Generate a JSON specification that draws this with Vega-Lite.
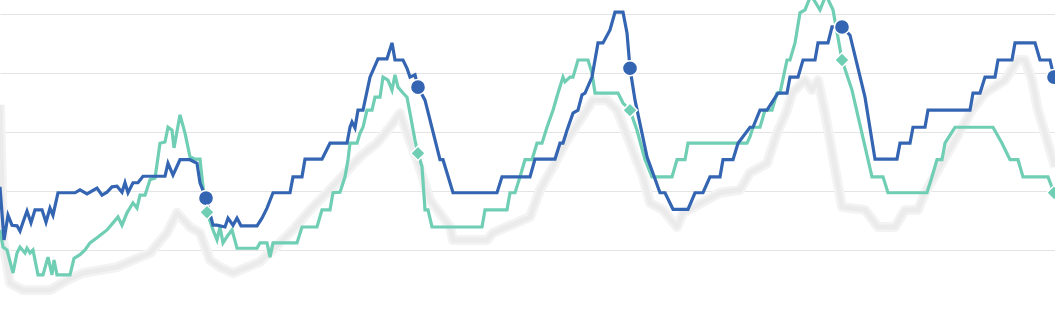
{
  "$schema": "https://vega.github.io/schema/vega-lite/v6.json",
  "width": 1055,
  "height": 309,
  "autosize": {"type": "fit", "contains": "padding"},
  "padding": 0,
  "background": "white",
  "config": {"view": {"stroke": null}},
  "datasets": {
    "series": [
      {"t": 0, "v": 34.6, "s": "shadow"}, {"t": 3, "v": 11.7, "s": "shadow"}, {"t": 10, "v": 4.4, "s": "shadow"}, {"t": 23, "v": 3.2, "s": "shadow"}, {"t": 50, "v": 3.2, "s": "shadow"}, {"t": 67, "v": 4.9, "s": "shadow"}, {"t": 83, "v": 6.1, "s": "shadow"}, {"t": 117, "v": 7.1, "s": "shadow"}, {"t": 133, "v": 8.3, "s": "shadow"}, {"t": 150, "v": 9.5, "s": "shadow"}, {"t": 167, "v": 12.9, "s": "shadow"}, {"t": 177, "v": 16.3, "s": "shadow"}, {"t": 190, "v": 13.9, "s": "shadow"}, {"t": 200, "v": 12.9, "s": "shadow"}, {"t": 210, "v": 8.3, "s": "shadow"}, {"t": 220, "v": 7.1, "s": "shadow"}, {"t": 233, "v": 6.1, "s": "shadow"}, {"t": 260, "v": 8.0, "s": "shadow"}, {"t": 293, "v": 13.4, "s": "shadow"}, {"t": 310, "v": 16.8, "s": "shadow"}, {"t": 327, "v": 19.7, "s": "shadow"}, {"t": 360, "v": 25.8, "s": "shadow"}, {"t": 377, "v": 28.1, "s": "shadow"}, {"t": 393, "v": 31.5, "s": "shadow"}, {"t": 400, "v": 33.2, "s": "shadow"}, {"t": 407, "v": 29.8, "s": "shadow"}, {"t": 417, "v": 25.3, "s": "shadow"}, {"t": 430, "v": 18.5, "s": "shadow"}, {"t": 450, "v": 13.9, "s": "shadow"}, {"t": 453, "v": 11.7, "s": "shadow"}, {"t": 487, "v": 11.7, "s": "shadow"}, {"t": 493, "v": 12.9, "s": "shadow"}, {"t": 530, "v": 15.6, "s": "shadow"}, {"t": 540, "v": 20.2, "s": "shadow"}, {"t": 553, "v": 24.1, "s": "shadow"}, {"t": 567, "v": 28.6, "s": "shadow"}, {"t": 580, "v": 32.0, "s": "shadow"}, {"t": 593, "v": 35.4, "s": "shadow"}, {"t": 607, "v": 35.4, "s": "shadow"}, {"t": 617, "v": 33.7, "s": "shadow"}, {"t": 630, "v": 28.1, "s": "shadow"}, {"t": 643, "v": 22.4, "s": "shadow"}, {"t": 650, "v": 18.0, "s": "shadow"}, {"t": 663, "v": 16.8, "s": "shadow"}, {"t": 677, "v": 13.9, "s": "shadow"}, {"t": 683, "v": 16.3, "s": "shadow"}, {"t": 720, "v": 19.7, "s": "shadow"}, {"t": 740, "v": 20.2, "s": "shadow"}, {"t": 750, "v": 23.1, "s": "shadow"}, {"t": 767, "v": 24.7, "s": "shadow"}, {"t": 777, "v": 29.8, "s": "shadow"}, {"t": 787, "v": 33.7, "s": "shadow"}, {"t": 792, "v": 36.6, "s": "shadow"}, {"t": 805, "v": 38.8, "s": "shadow"}, {"t": 812, "v": 37.1, "s": "shadow"}, {"t": 818, "v": 38.8, "s": "shadow"}, {"t": 825, "v": 33.2, "s": "shadow"}, {"t": 842, "v": 17.3, "s": "shadow"}, {"t": 865, "v": 16.8, "s": "shadow"}, {"t": 878, "v": 13.9, "s": "shadow"}, {"t": 895, "v": 13.9, "s": "shadow"}, {"t": 905, "v": 16.8, "s": "shadow"}, {"t": 918, "v": 16.8, "s": "shadow"}, {"t": 925, "v": 19.7, "s": "shadow"}, {"t": 972, "v": 33.7, "s": "shadow"}, {"t": 985, "v": 36.6, "s": "shadow"}, {"t": 1005, "v": 38.8, "s": "shadow"}, {"t": 1018, "v": 42.2, "s": "shadow"}, {"t": 1025, "v": 42.2, "s": "shadow"}, {"t": 1032, "v": 38.8, "s": "shadow"}, {"t": 1038, "v": 33.7, "s": "shadow"}, {"t": 1048, "v": 28.1, "s": "shadow"}, {"t": 1055, "v": 24.1, "s": "shadow"},

      {"t": 0, "v": 13.4, "s": "teal"}, {"t": 3, "v": 10.5, "s": "teal"}, {"t": 7, "v": 10.0, "s": "teal"}, {"t": 13, "v": 6.1, "s": "teal"}, {"t": 17, "v": 9.5, "s": "teal"}, {"t": 20, "v": 10.5, "s": "teal"}, {"t": 25, "v": 9.5, "s": "teal"}, {"t": 27, "v": 10.3, "s": "teal"}, {"t": 30, "v": 9.5, "s": "teal"}, {"t": 33, "v": 10.0, "s": "teal"}, {"t": 38, "v": 5.8, "s": "teal"}, {"t": 43, "v": 5.8, "s": "teal"}, {"t": 48, "v": 8.8, "s": "teal"}, {"t": 52, "v": 5.8, "s": "teal"}, {"t": 54, "v": 8.3, "s": "teal"}, {"t": 57, "v": 5.8, "s": "teal"}, {"t": 70, "v": 5.8, "s": "teal"}, {"t": 74, "v": 8.6, "s": "teal"}, {"t": 80, "v": 9.2, "s": "teal"}, {"t": 85, "v": 10.0, "s": "teal"}, {"t": 90, "v": 11.2, "s": "teal"}, {"t": 98, "v": 12.2, "s": "teal"}, {"t": 107, "v": 13.4, "s": "teal"}, {"t": 113, "v": 14.6, "s": "teal"}, {"t": 118, "v": 15.6, "s": "teal"}, {"t": 122, "v": 14.2, "s": "teal"}, {"t": 127, "v": 16.3, "s": "teal"}, {"t": 133, "v": 18.0, "s": "teal"}, {"t": 137, "v": 17.1, "s": "teal"}, {"t": 140, "v": 19.3, "s": "teal"}, {"t": 145, "v": 19.3, "s": "teal"}, {"t": 150, "v": 21.9, "s": "teal"}, {"t": 155, "v": 22.2, "s": "teal"}, {"t": 160, "v": 28.1, "s": "teal"}, {"t": 165, "v": 28.3, "s": "teal"}, {"t": 168, "v": 30.8, "s": "teal"}, {"t": 172, "v": 30.3, "s": "teal"}, {"t": 174, "v": 27.3, "s": "teal"}, {"t": 180, "v": 32.9, "s": "teal"}, {"t": 185, "v": 29.8, "s": "teal"}, {"t": 190, "v": 25.8, "s": "teal"}, {"t": 195, "v": 25.4, "s": "teal"}, {"t": 200, "v": 25.4, "s": "teal"}, {"t": 203, "v": 20.7, "s": "teal"}, {"t": 207, "v": 16.4, "s": "teal"}, {"t": 213, "v": 13.4, "s": "teal"}, {"t": 217, "v": 11.7, "s": "teal"}, {"t": 220, "v": 13.9, "s": "teal"}, {"t": 223, "v": 11.2, "s": "teal"}, {"t": 228, "v": 12.5, "s": "teal"}, {"t": 232, "v": 13.4, "s": "teal"}, {"t": 237, "v": 10.3, "s": "teal"}, {"t": 257, "v": 10.3, "s": "teal"}, {"t": 260, "v": 11.2, "s": "teal"}, {"t": 267, "v": 11.2, "s": "teal"}, {"t": 270, "v": 8.8, "s": "teal"}, {"t": 273, "v": 11.2, "s": "teal"}, {"t": 297, "v": 11.2, "s": "teal"}, {"t": 302, "v": 13.9, "s": "teal"}, {"t": 317, "v": 13.9, "s": "teal"}, {"t": 322, "v": 16.8, "s": "teal"}, {"t": 330, "v": 16.8, "s": "teal"}, {"t": 333, "v": 19.7, "s": "teal"}, {"t": 340, "v": 19.8, "s": "teal"}, {"t": 345, "v": 22.4, "s": "teal"}, {"t": 348, "v": 25.3, "s": "teal"}, {"t": 350, "v": 28.1, "s": "teal"}, {"t": 357, "v": 28.1, "s": "teal"}, {"t": 360, "v": 29.8, "s": "teal"}, {"t": 363, "v": 30.8, "s": "teal"}, {"t": 367, "v": 33.7, "s": "teal"}, {"t": 372, "v": 33.7, "s": "teal"}, {"t": 375, "v": 35.9, "s": "teal"}, {"t": 380, "v": 35.9, "s": "teal"}, {"t": 383, "v": 39.3, "s": "teal"}, {"t": 388, "v": 38.8, "s": "teal"}, {"t": 392, "v": 37.1, "s": "teal"}, {"t": 395, "v": 39.7, "s": "teal"}, {"t": 398, "v": 37.6, "s": "teal"}, {"t": 403, "v": 36.6, "s": "teal"}, {"t": 407, "v": 35.9, "s": "teal"}, {"t": 410, "v": 33.2, "s": "teal"}, {"t": 415, "v": 28.6, "s": "teal"}, {"t": 418, "v": 26.4, "s": "teal"}, {"t": 422, "v": 24.1, "s": "teal"}, {"t": 425, "v": 16.8, "s": "teal"}, {"t": 428, "v": 16.8, "s": "teal"}, {"t": 432, "v": 13.9, "s": "teal"}, {"t": 482, "v": 13.9, "s": "teal"}, {"t": 485, "v": 16.8, "s": "teal"}, {"t": 507, "v": 16.8, "s": "teal"}, {"t": 510, "v": 19.7, "s": "teal"}, {"t": 515, "v": 19.7, "s": "teal"}, {"t": 520, "v": 22.4, "s": "teal"}, {"t": 525, "v": 25.3, "s": "teal"}, {"t": 532, "v": 25.3, "s": "teal"}, {"t": 537, "v": 28.1, "s": "teal"}, {"t": 542, "v": 28.1, "s": "teal"}, {"t": 547, "v": 30.8, "s": "teal"}, {"t": 553, "v": 33.7, "s": "teal"}, {"t": 558, "v": 36.6, "s": "teal"}, {"t": 563, "v": 39.3, "s": "teal"}, {"t": 565, "v": 38.5, "s": "teal"}, {"t": 570, "v": 39.3, "s": "teal"}, {"t": 573, "v": 39.3, "s": "teal"}, {"t": 578, "v": 42.2, "s": "teal"}, {"t": 588, "v": 42.2, "s": "teal"}, {"t": 592, "v": 40.0, "s": "teal"}, {"t": 595, "v": 36.6, "s": "teal"}, {"t": 618, "v": 36.6, "s": "teal"}, {"t": 623, "v": 34.9, "s": "teal"}, {"t": 630, "v": 33.7, "s": "teal"}, {"t": 637, "v": 30.3, "s": "teal"}, {"t": 645, "v": 25.3, "s": "teal"}, {"t": 652, "v": 22.4, "s": "teal"}, {"t": 672, "v": 22.4, "s": "teal"}, {"t": 677, "v": 25.3, "s": "teal"}, {"t": 685, "v": 25.3, "s": "teal"}, {"t": 688, "v": 28.1, "s": "teal"}, {"t": 747, "v": 28.1, "s": "teal"}, {"t": 750, "v": 29.2, "s": "teal"}, {"t": 753, "v": 30.8, "s": "teal"}, {"t": 760, "v": 30.8, "s": "teal"}, {"t": 765, "v": 33.7, "s": "teal"}, {"t": 772, "v": 33.7, "s": "teal"}, {"t": 777, "v": 36.6, "s": "teal"}, {"t": 780, "v": 36.6, "s": "teal"}, {"t": 787, "v": 42.2, "s": "teal"}, {"t": 790, "v": 42.2, "s": "teal"}, {"t": 795, "v": 45.1, "s": "teal"}, {"t": 800, "v": 50.2, "s": "teal"}, {"t": 805, "v": 50.7, "s": "teal"}, {"t": 811, "v": 53.2, "s": "teal"}, {"t": 820, "v": 50.7, "s": "teal"}, {"t": 826, "v": 53.2, "s": "teal"}, {"t": 833, "v": 50.7, "s": "teal"}, {"t": 842, "v": 42.2, "s": "teal"}, {"t": 852, "v": 37.1, "s": "teal"}, {"t": 872, "v": 22.4, "s": "teal"}, {"t": 883, "v": 22.4, "s": "teal"}, {"t": 888, "v": 19.7, "s": "teal"}, {"t": 927, "v": 19.7, "s": "teal"}, {"t": 932, "v": 22.4, "s": "teal"}, {"t": 937, "v": 25.3, "s": "teal"}, {"t": 942, "v": 25.3, "s": "teal"}, {"t": 945, "v": 28.1, "s": "teal"}, {"t": 955, "v": 30.8, "s": "teal"}, {"t": 993, "v": 30.8, "s": "teal"}, {"t": 1002, "v": 28.1, "s": "teal"}, {"t": 1010, "v": 25.3, "s": "teal"}, {"t": 1018, "v": 25.3, "s": "teal"}, {"t": 1023, "v": 22.4, "s": "teal"}, {"t": 1048, "v": 22.4, "s": "teal"}, {"t": 1054, "v": 19.7, "s": "teal"},

      {"t": 0, "v": 20.7, "s": "blue"}, {"t": 4, "v": 11.7, "s": "blue"}, {"t": 8, "v": 15.9, "s": "blue"}, {"t": 12, "v": 14.2, "s": "blue"}, {"t": 17, "v": 14.1, "s": "blue"}, {"t": 20, "v": 13.2, "s": "blue"}, {"t": 23, "v": 14.7, "s": "blue"}, {"t": 27, "v": 16.6, "s": "blue"}, {"t": 31, "v": 14.6, "s": "blue"}, {"t": 35, "v": 16.8, "s": "blue"}, {"t": 42, "v": 16.8, "s": "blue"}, {"t": 46, "v": 14.7, "s": "blue"}, {"t": 50, "v": 17.1, "s": "blue"}, {"t": 53, "v": 15.9, "s": "blue"}, {"t": 58, "v": 19.7, "s": "blue"}, {"t": 75, "v": 19.7, "s": "blue"}, {"t": 80, "v": 20.2, "s": "blue"}, {"t": 87, "v": 19.5, "s": "blue"}, {"t": 97, "v": 20.5, "s": "blue"}, {"t": 102, "v": 19.3, "s": "blue"}, {"t": 107, "v": 19.8, "s": "blue"}, {"t": 112, "v": 20.7, "s": "blue"}, {"t": 117, "v": 20.8, "s": "blue"}, {"t": 122, "v": 19.8, "s": "blue"}, {"t": 125, "v": 21.4, "s": "blue"}, {"t": 128, "v": 19.7, "s": "blue"}, {"t": 133, "v": 21.4, "s": "blue"}, {"t": 138, "v": 21.4, "s": "blue"}, {"t": 143, "v": 22.5, "s": "blue"}, {"t": 165, "v": 22.5, "s": "blue"}, {"t": 168, "v": 24.7, "s": "blue"}, {"t": 173, "v": 22.7, "s": "blue"}, {"t": 180, "v": 25.3, "s": "blue"}, {"t": 190, "v": 25.3, "s": "blue"}, {"t": 197, "v": 24.7, "s": "blue"}, {"t": 200, "v": 21.4, "s": "blue"}, {"t": 206, "v": 18.8, "s": "blue"}, {"t": 213, "v": 14.2, "s": "blue"}, {"t": 217, "v": 14.2, "s": "blue"}, {"t": 225, "v": 13.9, "s": "blue"}, {"t": 228, "v": 15.4, "s": "blue"}, {"t": 233, "v": 14.2, "s": "blue"}, {"t": 237, "v": 15.4, "s": "blue"}, {"t": 241, "v": 14.1, "s": "blue"}, {"t": 257, "v": 14.1, "s": "blue"}, {"t": 262, "v": 15.4, "s": "blue"}, {"t": 267, "v": 17.1, "s": "blue"}, {"t": 273, "v": 19.7, "s": "blue"}, {"t": 290, "v": 19.7, "s": "blue"}, {"t": 293, "v": 22.4, "s": "blue"}, {"t": 302, "v": 22.4, "s": "blue"}, {"t": 305, "v": 25.4, "s": "blue"}, {"t": 322, "v": 25.4, "s": "blue"}, {"t": 330, "v": 28.1, "s": "blue"}, {"t": 347, "v": 28.1, "s": "blue"}, {"t": 350, "v": 30.8, "s": "blue"}, {"t": 352, "v": 31.7, "s": "blue"}, {"t": 355, "v": 30.7, "s": "blue"}, {"t": 358, "v": 33.7, "s": "blue"}, {"t": 363, "v": 33.7, "s": "blue"}, {"t": 370, "v": 39.3, "s": "blue"}, {"t": 378, "v": 42.4, "s": "blue"}, {"t": 387, "v": 42.4, "s": "blue"}, {"t": 392, "v": 45.1, "s": "blue"}, {"t": 395, "v": 42.2, "s": "blue"}, {"t": 403, "v": 42.2, "s": "blue"}, {"t": 407, "v": 40.8, "s": "blue"}, {"t": 410, "v": 39.3, "s": "blue"}, {"t": 415, "v": 39.7, "s": "blue"}, {"t": 418, "v": 37.6, "s": "blue"}, {"t": 425, "v": 35.4, "s": "blue"}, {"t": 440, "v": 25.3, "s": "blue"}, {"t": 443, "v": 25.3, "s": "blue"}, {"t": 453, "v": 19.7, "s": "blue"}, {"t": 497, "v": 19.7, "s": "blue"}, {"t": 502, "v": 22.4, "s": "blue"}, {"t": 530, "v": 22.4, "s": "blue"}, {"t": 535, "v": 25.4, "s": "blue"}, {"t": 555, "v": 25.4, "s": "blue"}, {"t": 560, "v": 28.1, "s": "blue"}, {"t": 563, "v": 28.1, "s": "blue"}, {"t": 567, "v": 30.3, "s": "blue"}, {"t": 573, "v": 33.2, "s": "blue"}, {"t": 578, "v": 33.7, "s": "blue"}, {"t": 582, "v": 36.3, "s": "blue"}, {"t": 585, "v": 36.6, "s": "blue"}, {"t": 592, "v": 39.3, "s": "blue"}, {"t": 598, "v": 45.1, "s": "blue"}, {"t": 603, "v": 45.1, "s": "blue"}, {"t": 610, "v": 47.3, "s": "blue"}, {"t": 615, "v": 50.3, "s": "blue"}, {"t": 623, "v": 50.3, "s": "blue"}, {"t": 627, "v": 46.8, "s": "blue"}, {"t": 630, "v": 40.8, "s": "blue"}, {"t": 635, "v": 35.4, "s": "blue"}, {"t": 647, "v": 25.8, "s": "blue"}, {"t": 660, "v": 19.7, "s": "blue"}, {"t": 665, "v": 19.7, "s": "blue"}, {"t": 673, "v": 16.9, "s": "blue"}, {"t": 688, "v": 16.9, "s": "blue"}, {"t": 695, "v": 19.7, "s": "blue"}, {"t": 703, "v": 19.7, "s": "blue"}, {"t": 710, "v": 22.4, "s": "blue"}, {"t": 720, "v": 22.4, "s": "blue"}, {"t": 723, "v": 25.3, "s": "blue"}, {"t": 733, "v": 25.3, "s": "blue"}, {"t": 738, "v": 28.1, "s": "blue"}, {"t": 750, "v": 30.8, "s": "blue"}, {"t": 753, "v": 30.8, "s": "blue"}, {"t": 760, "v": 33.7, "s": "blue"}, {"t": 767, "v": 33.7, "s": "blue"}, {"t": 778, "v": 36.6, "s": "blue"}, {"t": 787, "v": 36.6, "s": "blue"}, {"t": 790, "v": 39.3, "s": "blue"}, {"t": 798, "v": 39.3, "s": "blue"}, {"t": 803, "v": 42.2, "s": "blue"}, {"t": 815, "v": 42.2, "s": "blue"}, {"t": 818, "v": 45.1, "s": "blue"}, {"t": 828, "v": 45.1, "s": "blue"}, {"t": 832, "v": 47.8, "s": "blue"}, {"t": 842, "v": 47.8, "s": "blue"}, {"t": 850, "v": 46.4, "s": "blue"}, {"t": 865, "v": 35.9, "s": "blue"}, {"t": 875, "v": 25.4, "s": "blue"}, {"t": 897, "v": 25.4, "s": "blue"}, {"t": 900, "v": 28.1, "s": "blue"}, {"t": 910, "v": 28.1, "s": "blue"}, {"t": 913, "v": 30.8, "s": "blue"}, {"t": 925, "v": 30.8, "s": "blue"}, {"t": 928, "v": 33.7, "s": "blue"}, {"t": 970, "v": 33.7, "s": "blue"}, {"t": 973, "v": 36.6, "s": "blue"}, {"t": 980, "v": 36.6, "s": "blue"}, {"t": 985, "v": 39.3, "s": "blue"}, {"t": 995, "v": 39.3, "s": "blue"}, {"t": 998, "v": 42.2, "s": "blue"}, {"t": 1012, "v": 42.2, "s": "blue"}, {"t": 1015, "v": 45.1, "s": "blue"}, {"t": 1035, "v": 45.1, "s": "blue"}, {"t": 1040, "v": 42.2, "s": "blue"}, {"t": 1050, "v": 42.2, "s": "blue"}, {"t": 1054, "v": 39.3, "s": "blue"}
    ],
    "markers": [
      {"t": 206, "v": 18.8, "s": "blue"}, {"t": 418, "v": 37.6, "s": "blue"}, {"t": 630, "v": 40.8, "s": "blue"}, {"t": 842, "v": 47.8, "s": "blue"}, {"t": 1054, "v": 39.3, "s": "blue"},
      {"t": 207, "v": 16.4, "s": "teal"}, {"t": 418, "v": 26.4, "s": "teal"}, {"t": 630, "v": 33.7, "s": "teal"}, {"t": 842, "v": 42.2, "s": "teal"}, {"t": 1054, "v": 19.7, "s": "teal"}
    ]
  },
  "encoding": {
    "x": {"field": "t", "type": "quantitative", "scale": {"domain": [0, 1055], "nice": false, "zero": false}, "axis": null},
    "y": {
      "field": "v", "type": "quantitative",
      "scale": {"domain": [0, 52.37], "nice": false, "zero": false},
      "axis": {"values": [10, 20, 30, 40, 50], "labels": false, "ticks": false, "domain": false, "title": null, "grid": true, "gridColor": "#e4e4e4", "gridWidth": 1}
    }
  },
  "layer": [
    {
      "data": {"name": "series"},
      "transform": [{"filter": "datum.s === 'shadow'"}],
      "mark": {"type": "line", "color": "#f3f3f3", "strokeWidth": 10, "strokeJoin": "round", "clip": true}
    },
    {
      "data": {"name": "series"},
      "transform": [{"filter": "datum.s === 'shadow'"}],
      "mark": {"type": "line", "color": "#ebebeb", "strokeWidth": 5, "strokeJoin": "round", "clip": true}
    },
    {
      "data": {"name": "series"},
      "transform": [{"filter": "datum.s === 'teal'"}],
      "mark": {"type": "line", "color": "#6fceb3", "strokeWidth": 3.2, "strokeJoin": "miter", "clip": true}
    },
    {
      "data": {"name": "series"},
      "transform": [{"filter": "datum.s === 'blue'"}],
      "mark": {"type": "line", "color": "#3465b2", "strokeWidth": 3.2, "strokeJoin": "miter", "clip": true}
    },
    {
      "data": {"name": "markers"},
      "transform": [{"filter": "datum.s === 'blue'"}],
      "mark": {"type": "point", "shape": "circle", "filled": true, "color": "#3465b2", "size": 230, "stroke": "white", "strokeWidth": 1.5, "opacity": 1, "clip": true}
    },
    {
      "data": {"name": "markers"},
      "transform": [{"filter": "datum.s === 'teal'"}],
      "mark": {"type": "point", "shape": "diamond", "filled": true, "color": "#6fceb3", "size": 210, "stroke": "white", "strokeWidth": 1.5, "opacity": 1, "clip": true}
    }
  ]
}
